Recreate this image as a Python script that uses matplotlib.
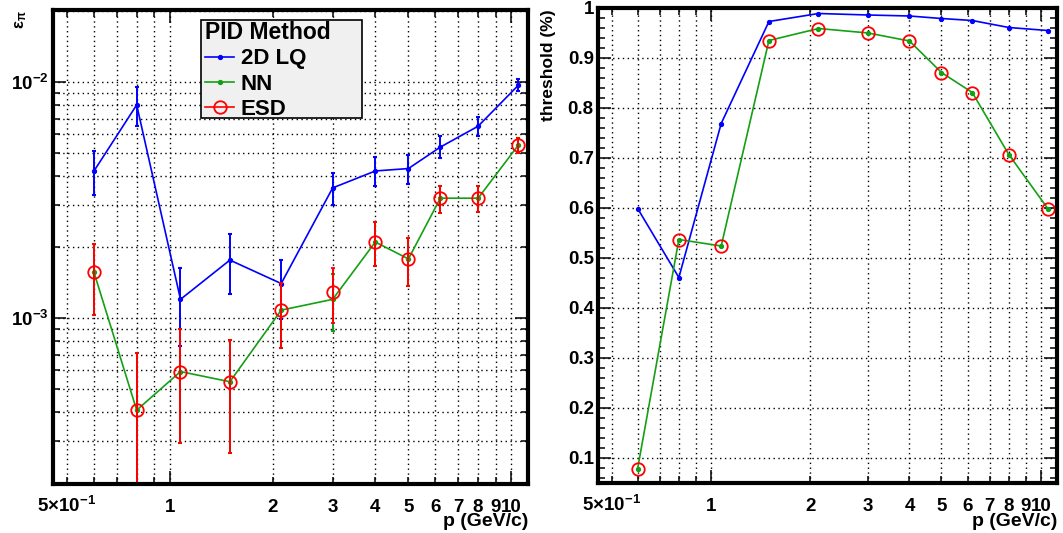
import matplotlib
matplotlib.use('Agg')
import numpy as np
import matplotlib.pyplot as plt
from matplotlib.ticker import FixedLocator, FuncFormatter, NullFormatter, MultipleLocator, LogLocator
from matplotlib.lines import Line2D
from matplotlib.patches import Rectangle

plt.rcParams['font.family'] = ['Liberation Sans', 'DejaVu Sans']
plt.rcParams['font.weight'] = 'bold'
plt.rcParams['mathtext.fontset'] = 'custom'
plt.rcParams['mathtext.bf'] = 'Liberation Sans:bold'
plt.rcParams['mathtext.rm'] = 'Liberation Sans'
plt.rcParams['mathtext.it'] = 'Liberation Sans:italic'

# ---------------- data ----------------
p = [0.6, 0.8, 1.075, 1.5, 2.12, 3.0, 4.0, 5.0, 6.2, 8.0, 10.5]

# pion efficiency (left panel)
lq_eff = [4.2e-3, 8.0e-3, 1.2e-3, 1.76e-3, 1.40e-3, 3.56e-3, 4.2e-3, 4.3e-3, 5.3e-3, 6.5e-3, 9.7e-3]
lq_hi = [5.12e-3, 9.5e-3, 1.63e-3, 2.26e-3, 1.77e-3, 4.1e-3, 4.82e-3, 4.92e-3, 5.9e-3, 7.09e-3, 1.03e-2]
lq_lo = [3.31e-3, 6.52e-3, 7.6e-4, 1.26e-3, 9.9e-4, 3.01e-3, 3.63e-3, 3.69e-3, 4.78e-3, 5.92e-3, 9.16e-3]

nn_eff = [1.56e-3, 4.07e-4, 5.93e-4, 5.37e-4, 1.08e-3, 1.20e-3, 2.1e-3, 1.78e-3, 3.22e-3, 3.22e-3, 5.41e-3]
nn_hi = [2.06e-3, 7.08e-4, 8.97e-4, 8.07e-4, 1.41e-3, 1.53e-3, 2.54e-3, 2.18e-3, 3.63e-3, 3.63e-3, 5.77e-3]
nn_lo = [1.03e-3, 1.5e-4, 2.94e-4, 2.67e-4, 7.5e-4, 8.8e-4, 1.66e-3, 1.37e-3, 2.78e-3, 2.82e-3, 5.02e-3]

esd_eff = [1.56e-3, 4.07e-4, 5.93e-4, 5.37e-4, 1.08e-3, 1.29e-3, 2.1e-3, 1.78e-3, 3.22e-3, 3.22e-3, 5.41e-3]
esd_hi = [2.06e-3, 7.08e-4, 8.97e-4, 8.07e-4, 1.41e-3, 1.63e-3, 2.54e-3, 2.18e-3, 3.63e-3, 3.63e-3, 5.77e-3]
esd_lo = [1.03e-3, 1.5e-4, 2.94e-4, 2.67e-4, 7.5e-4, 9.55e-4, 1.66e-3, 1.37e-3, 2.78e-3, 2.82e-3, 5.02e-3]

# threshold (right panel)
lq_thr = [0.599, 0.461, 0.769, 0.973, 0.989, 0.986, 0.984, 0.979, 0.975, 0.961, 0.955]
nn_thr = [0.079, 0.537, 0.524, 0.935, 0.959, 0.950, 0.934, 0.871, 0.831, 0.707, 0.599]
esd_thr = [0.079, 0.537, 0.524, 0.935, 0.959, 0.950, 0.934, 0.871, 0.831, 0.707, 0.599]

legend_title = 'PID Method'
legend_labels = ['2D LQ', 'NN', 'ESD']
x_major = [1, 10]
x_minor = [0.5, 0.6, 0.7, 0.8, 0.9, 2, 3, 4, 5, 6, 7, 8, 9]
x_labels = {0.5: r'$\mathbf{5{\times}10^{-1}}$', 1: '1', 2: '2', 3: '3', 4: '4', 5: '5',
            6: '6', 7: '7', 8: '8', 9: '9', 10: '10'}

# ---------------- style ----------------
W, H = 1063, 533
blue = '#0000ff'
green = '#14a014'
red = '#ff0000'
grid_ls = (0, (1, 2.5))

fig = plt.figure(figsize=(W / 100, H / 100), dpi=100)
fig.patch.set_facecolor('white')
axL = fig.add_axes([53 / W, 1 - 484 / H, (528 - 53) / W, (484 - 10) / H])
axR = fig.add_axes([598 / W, 1 - 483 / H, (1057 - 598) / W, (483 - 8) / H])


def xfmt(v, pos):
    for k, s in x_labels.items():
        if abs(v - k) < 1e-6:
            return s
    return ''


def style(ax):
    ax.set_xscale('log')
    ax.set_xlim(0.455, 11.2)
    for s in ax.spines.values():
        s.set_linewidth(3)
        s.set_zorder(6)
    ax.xaxis.set_major_locator(FixedLocator(x_major))
    ax.xaxis.set_minor_locator(FixedLocator(x_minor))
    ax.xaxis.set_major_formatter(FuncFormatter(xfmt))
    ax.xaxis.set_minor_formatter(FuncFormatter(xfmt))
    ax.tick_params(which='both', direction='in', top=True, right=True, width=1.1,
                   color='black', labelsize=13.5)
    ax.tick_params(which='major', length=9.5)
    ax.tick_params(which='minor', length=5)
    ax.tick_params(axis='x', which='both', pad=20)
    ax.tick_params(axis='y', which='both', pad=3)
    ax.grid(True, which='both', axis='x', color='black', linestyle=grid_ls, linewidth=1)
    ax.set_axisbelow(True)


style(axL)
style(axR)

# left y axis
axL.set_yscale('log')
axL.set_ylim(1.98e-4, 2.02e-2)
axL.yaxis.set_major_locator(FixedLocator([1e-3, 1e-2]))
axL.yaxis.set_minor_locator(LogLocator(base=10, subs=np.arange(2, 10)))
axL.yaxis.set_major_formatter(FuncFormatter(
    lambda v, pos: r'$\mathbf{10^{%d}}$' % int(round(np.log10(v)))))
axL.yaxis.set_minor_formatter(NullFormatter())
axL.grid(True, which='both', axis='y', color='black', linestyle=grid_ls, linewidth=1)

# right y axis
axR.set_ylim(0.05, 1.0)
axR.yaxis.set_major_locator(MultipleLocator(0.1))
axR.yaxis.set_minor_locator(MultipleLocator(0.02))
axR.yaxis.set_major_formatter(FuncFormatter(
    lambda v, pos: '1' if abs(v - 1) < 1e-6 else ('%.1f' % v)))
axR.grid(True, which='major', axis='y', color='black', linestyle=grid_ls, linewidth=1)

for ax in (axL, axR):
    for t in ax.xaxis.get_major_ticks() + ax.xaxis.get_minor_ticks():
        t.label1.set_verticalalignment('baseline')


def yerr(eff, lo, hi):
    e = np.array(eff)
    return [e - np.array(lo), np.array(hi) - e]


# ---------------- left panel ----------------
eb_kw = dict(capsize=1.7, capthick=1.5, elinewidth=1.4)
axL.errorbar(p, lq_eff, yerr=yerr(lq_eff, lq_lo, lq_hi), color=blue, lw=1.2,
             marker='o', ms=2.8, zorder=3, **eb_kw)
axL.errorbar(p, nn_eff, yerr=yerr(nn_eff, nn_lo, nn_hi), color=green, lw=1.2,
             marker='o', ms=2.8, zorder=3, **eb_kw)
axL.errorbar(p, esd_eff, yerr=yerr(esd_eff, esd_lo, esd_hi), color=red, ls='none',
             marker='o', ms=9, mfc='none', mew=1.3, zorder=4, **eb_kw)

# ---------------- right panel ----------------
axR.plot(p, lq_thr, color=blue, lw=1.2, marker='o', ms=2.8, zorder=3)
axR.plot(p, nn_thr, color=green, lw=1.2, marker='o', ms=2.8, zorder=3)
axR.plot(p, esd_thr, color=red, ls='none', marker='o', ms=9, mfc='none', mew=1.3, zorder=4)

# legend (box drawn separately to match reference size)
box = Rectangle((201 / W, 1 - 118 / H), 161 / W, 98 / H, transform=fig.transFigure,
                facecolor='#f0f0f0', edgecolor='black', linewidth=1.2, zorder=9,
                clip_on=False)
axL.add_patch(box)
handles = [Line2D([], [], color=blue, lw=1.2, marker='o', ms=2.8),
           Line2D([], [], color=green, lw=1.2, marker='o', ms=2.8),
           Line2D([], [], color=red, lw=1.2, marker='o', ms=9, mfc='none', mew=1.3)]
leg = axL.legend(handles, legend_labels, title=legend_title, loc='upper left',
                 bbox_to_anchor=(203 / W, 1 - 19 / H), bbox_transform=fig.transFigure,
                 prop={'weight': 'bold', 'size': 16},
                 title_fontproperties={'weight': 'bold', 'size': 16.5},
                 frameon=False, borderpad=0.1, labelspacing=0.19, handlelength=1.3,
                 handletextpad=0.3, borderaxespad=0, alignment='left')
leg.set_zorder(10)

# axis titles
fig.text(528 / W, 1 - 521 / H, 'p (GeV/c)', ha='right', va='center', fontsize=14,
         fontweight='bold')
fig.text(1057 / W, 1 - 522 / H, 'p (GeV/c)', ha='right', va='center', fontsize=14,
         fontweight='bold')
fig.text(548 / W, 1 - 9 / H, 'threshold (%)', rotation=90, ha='center', va='top',
         fontsize=12.5, fontweight='bold')
fig.text(21 / W, 1 - 10 / H, r'$\mathrm{\varepsilon_{\pi}}$', rotation=90, ha='center',
         va='top', fontsize=12, fontweight='normal')

fig.savefig('out.png', dpi=100)
